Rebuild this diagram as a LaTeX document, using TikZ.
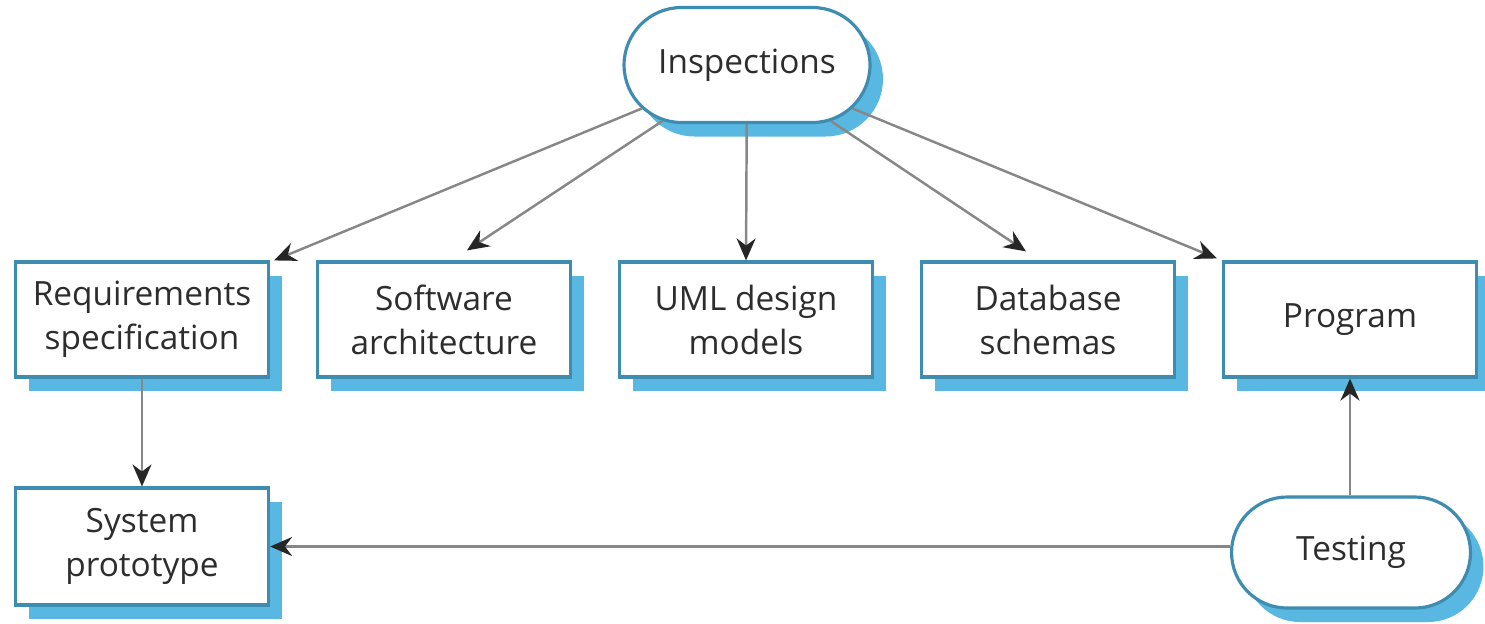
\documentclass[tikz,border=0pt]{standalone}
\usepackage{fontspec}
\setmainfont{Open Sans}
\usepackage{tikz}
\usetikzlibrary{arrows.meta, shapes.misc, shadows}
\definecolor{edgeblue}{RGB}{62, 140, 176}
\definecolor{shadeblue}{RGB}{88, 184, 226}
\definecolor{linegray}{RGB}{135, 135, 135}
\definecolor{textdark}{RGB}{45, 45, 45}

\begin{document}
\begin{tikzpicture}[
    font=\fontsize{9.5}{12.5}\selectfont, text=textdark,
    block/.style={draw=edgeblue, line width=0.9pt, fill=white, align=center,
        minimum width=2.53cm, minimum height=1.15cm, inner sep=2pt,
        general shadow={fill=shadeblue, shadow xshift=0.13cm, shadow yshift=-0.14cm}},
    pill/.style={block, rounded rectangle},
    flow/.style={-{Stealth[length=2.2mm, width=1.9mm, color=black!85]},
        draw=linegray, line width=0.7pt}
]
    \useasboundingbox (0,0) rectangle (14.85,-6.23);

    \node[pill, minimum width=2.6cm] (insp) at (7.47,-0.65) {Inspections};

    \node[block] (req)  at (1.42,-3.195) {Requirements\\specification};
    \node[block] (soft) at (4.44,-3.195) {Software\\architecture};
    \node[block] (uml)  at (7.46,-3.195) {UML design\\models};
    \node[block] (db)   at (10.48,-3.195) {Database\\schemas};
    \node[block] (prog) at (13.50,-3.195) {Program};

    \node[block, minimum height=1.17cm] (sys) at (1.42,-5.465) {System\\prototype};
    \node[pill, minimum height=1.11cm] (test) at (13.51,-5.525) {Testing};

    \draw[flow] (insp) -- ([xshift=0.04cm]req.north east);
    \draw[flow] (insp) -- ([shift={(0.23,0.1)}]soft.north);
    \draw[flow] (insp) -- (uml.north);
    \draw[flow] (insp) -- ([shift={(-0.22,0.09)}]db.north);
    \draw[flow] (insp) -- ([shift={(-0.05,0.02)}]prog.north west);

    \draw[flow] (req.south) -- (sys.north);
    \draw[flow] (sys.east -| test.west) -- (sys.east);
    \draw[flow] (test.north -| prog.south) -- (prog.south);
\end{tikzpicture}
\end{document}
